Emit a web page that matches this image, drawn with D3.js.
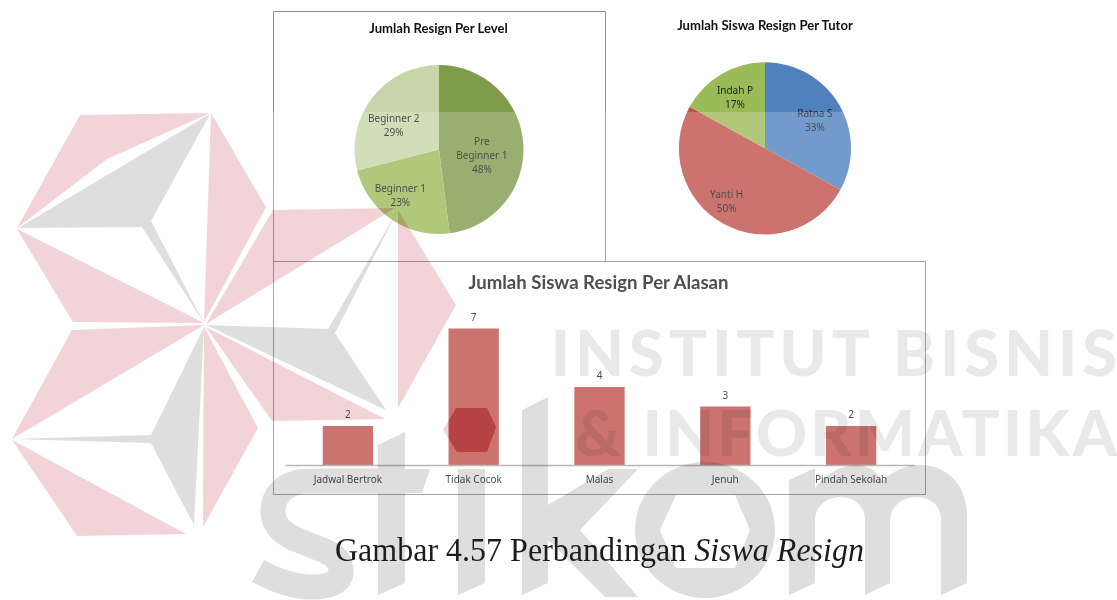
<!DOCTYPE html>
<html>
<head>
    <title>Perbandingan Siswa Resign</title>
    <script src="https://d3js.org/d3.v7.min.js"></script>
    <style>
        body { margin: 0; background: #fff; }
        svg { display: block; }
        .frame { fill: none; stroke: #8f8f8f; stroke-width: 1; }
        .chart-title { font-family: Lato, sans-serif; font-weight: 700; fill: #111; text-anchor: middle; }
        .label { font-family: "Noto Sans", sans-serif; font-size: 10px; fill: #222; text-anchor: middle; }
        .axis path { stroke: #a6a6a6; stroke-width: 1.5; }
        .axis text { font-family: "Noto Sans", sans-serif; font-size: 10px; fill: #222; }
        .caption { font-family: "Liberation Serif", serif; font-size: 33px; fill: #1c1c1c; }
        .wm-text { font-family: Lato, sans-serif; font-weight: 900; font-size: 63px; fill: #e9e9e9; }
    </style>
</head>
<body>
    <div id="chart"></div>

    <script>
        // chart values
        const levelNames = ["Pre Beginner 1", "Beginner 1", "Beginner 2"];
        const levelValues = [48, 23, 29];
        const levelColors = ["#7f9c4b", "#9bbb59", "#c6d6a8"];

        const tutorNames = ["Ratna S", "Yanti H", "Indah P"];
        const tutorValues = [33, 50, 17];
        const tutorColors = ["#4f81bd", "#c0504d", "#9bbb59"];

        const reasonNames = ["Jadwal Bertrok", "Tidak Cocok", "Malas", "Jenuh", "Pindah Sekolah"];
        const reasonValues = [2, 7, 4, 3, 2];

        // watermark shapes (logo behind the charts)
        const logoPink = [
            [[80,115],[210,113],[107,159],[17,228]],
            [[211,113],[266,207],[204,322]],
            [[17,229],[204,323],[73,322]],
            [[204,325],[72,330],[12,439]],
            [[12,440],[186,534],[77,536]],
            [[204,327],[258,428],[203,527]],
            [[206,324],[273,210],[395,208]],
            [[398,210],[456,305],[398,408]],
            [[206,327],[385,419],[272,421]]
        ];
        const logoGray = [
            [[210,114],[151,221],[204,323],[142,227],[18,228]],
            [[204,327],[151,435],[12,439],[151,443],[194,525]],
            [[206,325],[328,329],[398,210],[335,333],[386,410]]
        ];
        const hexagon = [[443,430],[456,408],[487,408],[496,427],[487,452],[457,452]];

        const svg = d3.select("#chart").append("svg")
            .attr("width", 1117)
            .attr("height", 600);

        // frames
        svg.append("path").attr("class", "frame").attr("d", "M273.5,261V11.5H605.5V261");
        svg.append("rect").attr("class", "frame")
            .attr("x", 273.5).attr("y", 261.5).attr("width", 652).attr("height", 233);

        function drawPie(names, values, colors, cx, cy, radius, labelR, nudge) {
            const g = svg.append("g").attr("transform", `translate(${cx},${cy})`);
            const arcs = d3.pie().sort(null)(values);
            const arc = d3.arc().innerRadius(0).outerRadius(radius);

            g.selectAll("path")
                .data(arcs)
                .enter()
                .append("path")
                .attr("d", arc)
                .attr("fill", (d, i) => colors[i]);

            arcs.forEach(function(d, i) {
                const c = d3.arc().innerRadius(labelR[i]).outerRadius(labelR[i]).centroid(d);
                const name = names[i];
                // long names wrap after the first word
                const lines = name.length > 12
                    ? [name.slice(0, name.indexOf(" ")), name.slice(name.indexOf(" ") + 1)]
                    : [name];
                lines.push(d.value + "%");
                const top = c[1] + nudge[i][1] - (lines.length - 1) * 7 + 3.5;
                lines.forEach(function(line, j) {
                    g.append("text")
                        .attr("class", "label")
                        .attr("x", c[0] + nudge[i][0])
                        .attr("y", top + j * 14)
                        .text(line);
                });
            });
        }

        drawPie(levelNames, levelValues, levelColors, 439, 149.5, 84.5,
            [43, 60, 51], [[0, 9], [-5, -4], [-5, 7.5]]);
        drawPie(tutorNames, tutorValues, tutorColors, 765, 148.3, 86,
            [58, 64, 59], [[0, 1.5], [-7.5, -3], [0, 0]]);

        svg.append("text").attr("class", "chart-title")
            .attr("x", 438.5).attr("y", 33).style("font-size", "13.1px")
            .text("Jumlah Resign Per Level");
        svg.append("text").attr("class", "chart-title")
            .attr("x", 765).attr("y", 30).style("font-size", "13.1px")
            .text("Jumlah Siswa Resign Per Tutor");
        svg.append("text").attr("class", "chart-title")
            .attr("x", 598.5).attr("y", 289).style("font-size", "18.6px").style("fill", "#222")
            .text("Jumlah Siswa Resign Per Alasan");

        // bars
        const x = d3.scaleBand()
            .domain(reasonNames)
            .range([285, 914])
            .paddingInner(0.6)
            .paddingOuter(0.3);
        const y = d3.scaleLinear()
            .domain([0, 7])
            .range([465, 328.5]);

        svg.selectAll(".bar")
            .data(reasonValues)
            .enter()
            .append("rect")
            .attr("class", "bar")
            .attr("x", (d, i) => x(reasonNames[i]))
            .attr("y", d => y(d))
            .attr("width", x.bandwidth())
            .attr("height", d => y(0) - y(d))
            .attr("fill", "#c0504d");

        svg.selectAll(".bar-value")
            .data(reasonValues)
            .enter()
            .append("text")
            .attr("class", "label")
            .attr("x", (d, i) => x(reasonNames[i]) + x.bandwidth() / 2)
            .attr("y", d => y(d) - 8)
            .text(d => d);

        svg.append("g")
            .attr("class", "axis")
            .attr("transform", "translate(0,465)")
            .call(d3.axisBottom(x).tickSize(0).tickPadding(11));

        // the watermark washes out everything below y=112, apart from the i-dot hole
        const hexPath = "M" + hexagon.join("L") + "Z";
        svg.append("path")
            .attr("d", "M0,112H1117V600H0Z" + hexPath)
            .attr("fill", "#fff")
            .attr("fill-opacity", 0.2)
            .attr("fill-rule", "evenodd");

        const wm = svg.append("g").style("mix-blend-mode", "multiply");

        wm.selectAll(".pink")
            .data(logoPink.concat([hexagon]))
            .enter()
            .append("polygon")
            .attr("points", d => d.join(" "))
            .attr("fill", "#f2d3d7");

        wm.selectAll(".gray")
            .data(logoGray)
            .enter()
            .append("polygon")
            .attr("points", d => d.join(" "))
            .attr("fill", "#dedede");

        wm.append("text").attr("class", "wm-text")
            .attr("x", 551).attr("y", 376)
            .attr("textLength", 566).attr("lengthAdjust", "spacing")
            .text("INSTITUT BISNIS");
        wm.append("text").attr("class", "wm-text")
            .attr("x", 575).attr("y", 456)
            .attr("textLength", 542).attr("lengthAdjust", "spacing")
            .text("& INFORMATIKA");

        // stikom letters
        const stikom = wm.append("g").attr("fill", "#dedede");
        // s
        stikom.append("path")
            .attr("fill", "none")
            .attr("stroke", "#dedede")
            .attr("stroke-width", 25)
            .attr("d", "M395,481H310C285,481 273,495 273,511C273,527 285,535 300,541L325,551C340,557 341,566 341,571C341,583 328,587 312,587C294,587 278,582 258,571");
        // t
        stikom.append("path").attr("d", "M378,445L405,432V469H430L422,493H405V583L378,595V493H360V469H378Z");
        // i
        stikom.append("path").attr("d", "M458,469H485V583L458,595Z");
        // k
        stikom.append("path").attr("d", "M522,410L548,397V505L608,469H638L580,530L638,597H605L548,540V583L522,595Z");
        // o
        stikom.append("path")
            .attr("fill-rule", "evenodd")
            .attr("d", "M635,530A70,68 0 1 1 775,530A70,68 0 1 1 635,530Z M660,530L676,495H735L750,530L735,568H676Z");
        // m
        stikom.append("path").attr("d", "M789,480L815,468V488C825,474 842,465 856,465C868,465 878,472 882,481C893,471 906,465 920,465C950,465 967,488 967,515V583L941,595V520C941,505 930,497 916,497C902,497 890,507 890,520V583L865,595V520C865,505 853,497 840,497C826,497 815,507 815,520V583L789,595Z");

        // caption
        const caption = svg.append("text").attr("class", "caption")
            .attr("x", 335).attr("y", 561)
            .attr("textLength", 529).attr("lengthAdjust", "spacingAndGlyphs");
        caption.append("tspan").text("Gambar 4.57 Perbandingan ");
        caption.append("tspan").style("font-style", "italic").text("Siswa Resign");
    </script>
</body>
</html>
